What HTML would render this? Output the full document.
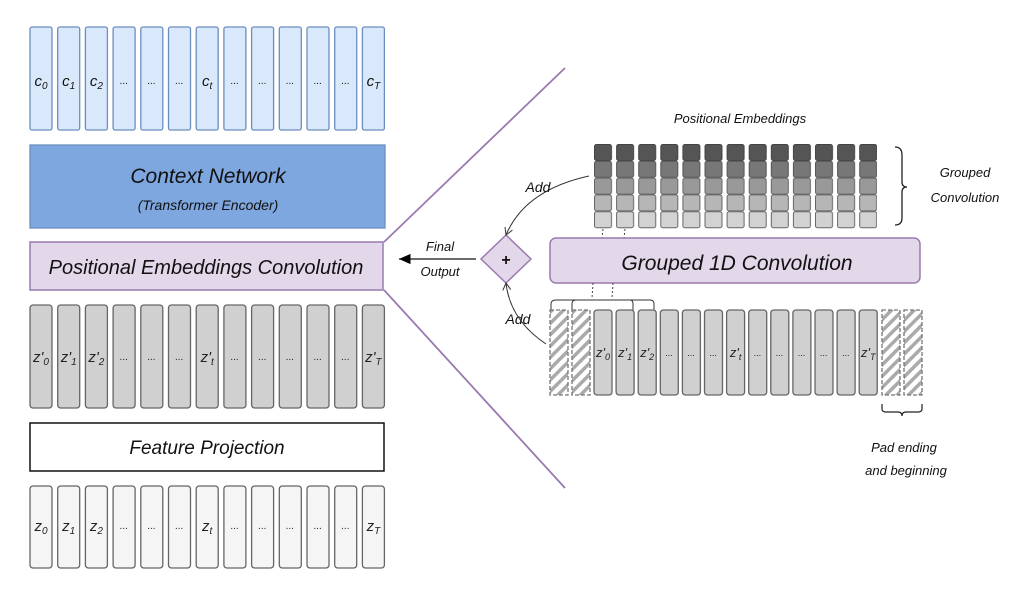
<!DOCTYPE html>
<html><head><meta charset="utf-8"><style>
html,body{margin:0;padding:0;background:#fff;}
svg{display:block;font-family:"Liberation Sans",sans-serif;font-style:italic;}
</style></head><body>
<svg width="1022" height="594" viewBox="0 0 1022 594" xmlns="http://www.w3.org/2000/svg">
<defs>
<pattern id="pe" patternUnits="userSpaceOnUse" x="594" y="144" width="22.1" height="85">
<rect x="0.5" y="0.5" width="17" height="16" rx="2" fill="#555" stroke="#444"/>
<rect x="0.5" y="17.3" width="17" height="16" rx="2" fill="#777" stroke="#555"/>
<rect x="0.5" y="34.1" width="17" height="16" rx="2" fill="#999" stroke="#666"/>
<rect x="0.5" y="50.9" width="17" height="16" rx="2" fill="#b6b6b6" stroke="#666"/>
<rect x="0.5" y="67.7" width="17" height="16" rx="2" fill="#d2d2d2" stroke="#666"/>
</pattern>
<pattern id="hatch" patternUnits="userSpaceOnUse" width="8" height="8" patternTransform="rotate(45)">
<rect width="8" height="8" fill="#fff"/><rect width="3.5" height="8" fill="#aaa"/>
</pattern>
<marker id="ah" markerWidth="10" markerHeight="10" refX="9" refY="5" orient="auto"><path d="M0,1 L9,5 L0,9z" fill="#000"/></marker>
<marker id="oa" markerWidth="10" markerHeight="10" refX="8" refY="5" orient="auto"><path d="M1,1 L8,5 L1,9" fill="none" stroke="#333" stroke-width="1"/></marker>
</defs>

<g fill="#dae8fb" stroke="#6c8ebf" stroke-width="1.3">
<rect x="30" y="27" width="22" height="103" rx="2"/><rect x="57.7" y="27" width="22" height="103" rx="2"/><rect x="85.4" y="27" width="22" height="103" rx="2"/><rect x="113.1" y="27" width="22" height="103" rx="2"/><rect x="140.8" y="27" width="22" height="103" rx="2"/><rect x="168.5" y="27" width="22" height="103" rx="2"/><rect x="196.2" y="27" width="22" height="103" rx="2"/><rect x="223.9" y="27" width="22" height="103" rx="2"/><rect x="251.6" y="27" width="22" height="103" rx="2"/><rect x="279.3" y="27" width="22" height="103" rx="2"/><rect x="307" y="27" width="22" height="103" rx="2"/><rect x="334.7" y="27" width="22" height="103" rx="2"/><rect x="362.4" y="27" width="22" height="103" rx="2"/>
</g>
<g font-size="15" text-anchor="middle" fill="#111">
<text x="41" y="86">c<tspan font-size="10" dy="3">0</tspan></text><text x="68.7" y="86">c<tspan font-size="10" dy="3">1</tspan></text><text x="96.4" y="86">c<tspan font-size="10" dy="3">2</tspan></text><text x="124.1" y="84" font-size="10">...</text><text x="151.8" y="84" font-size="10">...</text><text x="179.5" y="84" font-size="10">...</text><text x="207.2" y="86">c<tspan font-size="10" dy="3">t</tspan></text><text x="234.9" y="84" font-size="10">...</text><text x="262.6" y="84" font-size="10">...</text><text x="290.3" y="84" font-size="10">...</text><text x="318" y="84" font-size="10">...</text><text x="345.7" y="84" font-size="10">...</text><text x="373.4" y="86">c<tspan font-size="10" dy="3">T</tspan></text>
</g>

<rect x="30" y="145" width="355" height="83" fill="#7ea6df" stroke="#6c8ebf" stroke-width="1.3"/>
<text x="208" y="183" font-size="21" text-anchor="middle" fill="#111">Context Network</text>
<text x="208" y="210" font-size="14" text-anchor="middle" fill="#111">(Transformer Encoder)</text>

<rect x="30" y="242" width="353" height="48" fill="#e3d7ea" stroke="#9a7ab0" stroke-width="1.5"/>
<text x="206" y="274" font-size="20" text-anchor="middle" fill="#111">Positional Embeddings Convolution</text>

<g fill="#d0d0d0" stroke="#666" stroke-width="1.3">
<rect x="30" y="305" width="22" height="103" rx="3"/><rect x="57.7" y="305" width="22" height="103" rx="3"/><rect x="85.4" y="305" width="22" height="103" rx="3"/><rect x="113.1" y="305" width="22" height="103" rx="3"/><rect x="140.8" y="305" width="22" height="103" rx="3"/><rect x="168.5" y="305" width="22" height="103" rx="3"/><rect x="196.2" y="305" width="22" height="103" rx="3"/><rect x="223.9" y="305" width="22" height="103" rx="3"/><rect x="251.6" y="305" width="22" height="103" rx="3"/><rect x="279.3" y="305" width="22" height="103" rx="3"/><rect x="307" y="305" width="22" height="103" rx="3"/><rect x="334.7" y="305" width="22" height="103" rx="3"/><rect x="362.4" y="305" width="22" height="103" rx="3"/>
</g>
<g font-size="15" text-anchor="middle" fill="#222">
<text x="41" y="362">z'<tspan font-size="10" dy="3">0</tspan></text><text x="68.7" y="362">z'<tspan font-size="10" dy="3">1</tspan></text><text x="96.4" y="362">z'<tspan font-size="10" dy="3">2</tspan></text><text x="124.1" y="360" font-size="10">...</text><text x="151.8" y="360" font-size="10">...</text><text x="179.5" y="360" font-size="10">...</text><text x="207.2" y="362">z'<tspan font-size="10" dy="3">t</tspan></text><text x="234.9" y="360" font-size="10">...</text><text x="262.6" y="360" font-size="10">...</text><text x="290.3" y="360" font-size="10">...</text><text x="318" y="360" font-size="10">...</text><text x="345.7" y="360" font-size="10">...</text><text x="373.4" y="362">z'<tspan font-size="10" dy="3">T</tspan></text>
</g>

<rect x="30" y="423" width="354" height="48" fill="#fff" stroke="#111" stroke-width="1.5"/>
<text x="207" y="454" font-size="19" text-anchor="middle" fill="#111">Feature Projection</text>

<g fill="#f5f5f5" stroke="#666" stroke-width="1.3">
<rect x="30" y="486" width="22" height="82" rx="3"/><rect x="57.7" y="486" width="22" height="82" rx="3"/><rect x="85.4" y="486" width="22" height="82" rx="3"/><rect x="113.1" y="486" width="22" height="82" rx="3"/><rect x="140.8" y="486" width="22" height="82" rx="3"/><rect x="168.5" y="486" width="22" height="82" rx="3"/><rect x="196.2" y="486" width="22" height="82" rx="3"/><rect x="223.9" y="486" width="22" height="82" rx="3"/><rect x="251.6" y="486" width="22" height="82" rx="3"/><rect x="279.3" y="486" width="22" height="82" rx="3"/><rect x="307" y="486" width="22" height="82" rx="3"/><rect x="334.7" y="486" width="22" height="82" rx="3"/><rect x="362.4" y="486" width="22" height="82" rx="3"/>
</g>
<g font-size="15" text-anchor="middle" fill="#222">
<text x="41" y="531">z<tspan font-size="10" dy="3">0</tspan></text><text x="68.7" y="531">z<tspan font-size="10" dy="3">1</tspan></text><text x="96.4" y="531">z<tspan font-size="10" dy="3">2</tspan></text><text x="124.1" y="529" font-size="10">...</text><text x="151.8" y="529" font-size="10">...</text><text x="179.5" y="529" font-size="10">...</text><text x="207.2" y="531">z<tspan font-size="10" dy="3">t</tspan></text><text x="234.9" y="529" font-size="10">...</text><text x="262.6" y="529" font-size="10">...</text><text x="290.3" y="529" font-size="10">...</text><text x="318" y="529" font-size="10">...</text><text x="345.7" y="529" font-size="10">...</text><text x="373.4" y="531">z<tspan font-size="10" dy="3">T</tspan></text>
</g>

<line x1="384" y1="242" x2="565" y2="68" stroke="#9a7ab0" stroke-width="1.8"/>
<line x1="384" y1="290" x2="565" y2="488" stroke="#9a7ab0" stroke-width="1.8"/>

<line x1="476" y1="259" x2="399" y2="259" stroke="#111" stroke-width="1.3" marker-end="url(#ah)"/>
<text x="440" y="251" font-size="13" text-anchor="middle" fill="#111">Final</text>
<text x="440" y="276" font-size="13" text-anchor="middle" fill="#111">Output</text>

<polygon points="506,235 531,259 506,283 481,259" fill="#e3d7ea" stroke="#9a7ab0" stroke-width="1.5"/>
<text x="506" y="265" font-size="16" font-style="normal" font-weight="bold" text-anchor="middle" fill="#111">+</text>

<path d="M589,176 Q525,190 506,235" fill="none" stroke="#333" stroke-width="1" marker-end="url(#oa)"/>
<text x="538" y="192" font-size="14" text-anchor="middle" fill="#111">Add</text>
<path d="M546,344 Q510,320 506,283" fill="none" stroke="#333" stroke-width="1" marker-end="url(#oa)"/>
<text x="518" y="324" font-size="14" text-anchor="middle" fill="#111">Add</text>

<text x="740" y="123" font-size="13" text-anchor="middle" fill="#111">Positional Embeddings</text>
<rect x="594" y="144" width="283" height="85" fill="url(#pe)"/>
<path d="M895,147 Q902,147 902,155 L902,182 Q902,187 907,187 Q902,187 902,192 L902,218 Q902,225 895,225" fill="none" stroke="#222" stroke-width="1.3"/>
<text x="965" y="177" font-size="13" text-anchor="middle" fill="#111">Grouped</text>
<text x="965" y="202" font-size="13" text-anchor="middle" fill="#111">Convolution</text>

<line x1="603" y1="229" x2="602" y2="238" stroke="#444" stroke-dasharray="2,2"/>
<line x1="625" y1="229" x2="624" y2="238" stroke="#444" stroke-dasharray="2,2"/>

<rect x="550" y="238" width="370" height="45" rx="6" fill="#e3d7ea" stroke="#9a7ab0" stroke-width="1.5"/>
<text x="737" y="270" font-size="21" text-anchor="middle" fill="#111">Grouped 1D Convolution</text>

<line x1="593" y1="283" x2="592" y2="298" stroke="#444" stroke-dasharray="2,2"/>
<line x1="613" y1="283" x2="612" y2="298" stroke="#444" stroke-dasharray="2,2"/>
<path d="M551,312 L551,304 Q551,300 556,300 L630,300 Q633,300 633,304 L633,311" fill="none" stroke="#333"/>
<path d="M572,312 L572,304 Q572,300 576,300 L650,300 Q654,300 654,304 L654,311" fill="none" stroke="#333"/>

<g fill="url(#hatch)" stroke="#777" stroke-width="1.3" stroke-dasharray="4,2">
<rect x="550" y="310" width="18" height="85"/><rect x="572" y="310" width="18" height="85"/>
<rect x="882" y="310" width="18" height="85"/><rect x="904" y="310" width="18" height="85"/>
</g>
<g fill="#d0d0d0" stroke="#666" stroke-width="1.3">
<rect x="594" y="310" width="18" height="85" rx="3"/><rect x="616.1" y="310" width="18" height="85" rx="3"/><rect x="638.2" y="310" width="18" height="85" rx="3"/><rect x="660.3" y="310" width="18" height="85" rx="3"/><rect x="682.4" y="310" width="18" height="85" rx="3"/><rect x="704.5" y="310" width="18" height="85" rx="3"/><rect x="726.6" y="310" width="18" height="85" rx="3"/><rect x="748.7" y="310" width="18" height="85" rx="3"/><rect x="770.8" y="310" width="18" height="85" rx="3"/><rect x="792.9" y="310" width="18" height="85" rx="3"/><rect x="815" y="310" width="18" height="85" rx="3"/><rect x="837.1" y="310" width="18" height="85" rx="3"/><rect x="859.2" y="310" width="18" height="85" rx="3"/>
</g>
<g font-size="13" text-anchor="middle" fill="#222">
<text x="603" y="357">z'<tspan font-size="9" dy="3">0</tspan></text><text x="625.1" y="357">z'<tspan font-size="9" dy="3">1</tspan></text><text x="647.2" y="357">z'<tspan font-size="9" dy="3">2</tspan></text><text x="669.3" y="356" font-size="9">...</text><text x="691.4" y="356" font-size="9">...</text><text x="713.5" y="356" font-size="9">...</text><text x="735.6" y="357">z'<tspan font-size="9" dy="3">t</tspan></text><text x="757.7" y="356" font-size="9">...</text><text x="779.8" y="356" font-size="9">...</text><text x="801.9" y="356" font-size="9">...</text><text x="824" y="356" font-size="9">...</text><text x="846.1" y="356" font-size="9">...</text><text x="868.2" y="357">z'<tspan font-size="9" dy="3">T</tspan></text>
</g>
<path d="M882,404 L882,409 Q882,412 886,412 L898,412 Q902,412 902,416 Q902,412 906,412 L918,412 Q922,412 922,409 L922,404" fill="none" stroke="#222" stroke-width="1.2"/>
<text x="904" y="452" font-size="13" text-anchor="middle" fill="#111">Pad ending</text>
<text x="906" y="475" font-size="13" text-anchor="middle" fill="#111">and beginning</text>
</svg>
</body></html>
